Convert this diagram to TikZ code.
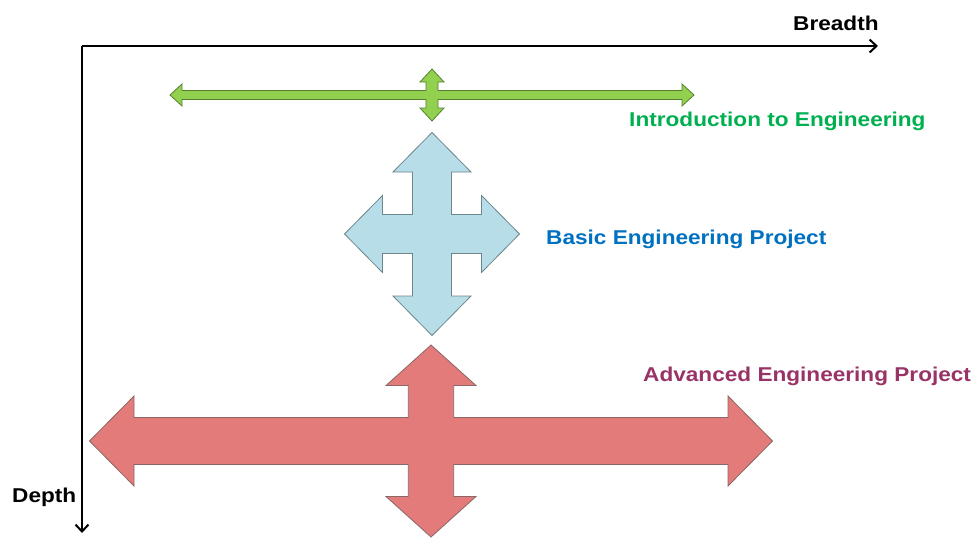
\documentclass[tikz,border=0pt]{standalone}
\usepackage{fontspec}
\setmainfont{Liberation Sans}
\usetikzlibrary{arrows.meta}
\usepackage{xcolor}

\definecolor{introfill}{HTML}{92D050}
\definecolor{introline}{HTML}{557F2E}
\definecolor{introtext}{HTML}{00B050}
\definecolor{basicfill}{HTML}{B7DEE8}
\definecolor{basicline}{HTML}{6E8589}
\definecolor{basictext}{HTML}{0070C0}
\definecolor{advfill}{HTML}{E47B7B}
\definecolor{advline}{HTML}{8A6666}
\definecolor{advtext}{HTML}{993366}

% four-way arrow around the origin:
% #1 style, #2 h tip, #3 h head base, #4 h head half width, #5 h shaft half width,
% #6 v tip, #7 v head base, #8 v head half width, #9 v shaft half width
\newcommand{\crossarrow}[9]{%
  \draw[#1] (#2,0) -- (#3,-#4) -- (#3,-#5) -- (#9,-#5) -- (#9,-#7) -- (#8,-#7)
    -- (0,-#6) -- (-#8,-#7) -- (-#9,-#7) -- (-#9,-#5) -- (-#3,-#5) -- (-#3,-#4)
    -- (-#2,0) -- (-#3,#4) -- (-#3,#5) -- (-#9,#5) -- (-#9,#7) -- (-#8,#7)
    -- (0,#6) -- (#8,#7) -- (#9,#7) -- (#9,#5) -- (#3,#5) -- (#3,#4) -- cycle;}

\tikzset{
  axis/.style={line width=2pt,-{Straight Barb[length=7pt,width=13pt,line width=2pt]}},
  label/.style={anchor=base west,inner sep=0pt,xscale=1.13,
    font=\fontsize{20}{22}\selectfont\bfseries},
}

\begin{document}
\begin{tikzpicture}[x=1pt,y=-1pt]
\useasboundingbox (0,0) rectangle (979,539);

% axes
\coordinate (origin) at (82,46);
\coordinate (breadth end) at (878,46);
\coordinate (depth end) at (82,533);
\draw[axis] (origin) -- (breadth end);
\draw[axis] (origin) -- (depth end);
\node[label] (breadth) at (793,30) {Breadth};
\node[label] (depth) at (12,502) {Depth};

% the three courses
\crossarrow{fill=introfill,draw=introline,line width=0.8pt,line join=miter,shift={(432,95)}}{262}{250}{11}{4.5}{26}{13}{12}{6}
\crossarrow{fill=basicfill,draw=basicline,line width=0.8pt,shift={(432,234)}}{87.5}{49.5}{38.5}{19.5}{101.5}{62}{39}{19.5}
\crossarrow{fill=advfill,draw=advline,line width=0.8pt,shift={(431,441)}}{341.5}{297}{45}{23.5}{96}{55.5}{45}{22.7}

\node[label,text=introtext] (intro) at (629,126) {Introduction to Engineering};
\node[label,text=basictext] (basic) at (546,244) {Basic Engineering Project};
\node[label,text=advtext] (adv) at (643,381) {Advanced Engineering Project};
\end{tikzpicture}
\end{document}
